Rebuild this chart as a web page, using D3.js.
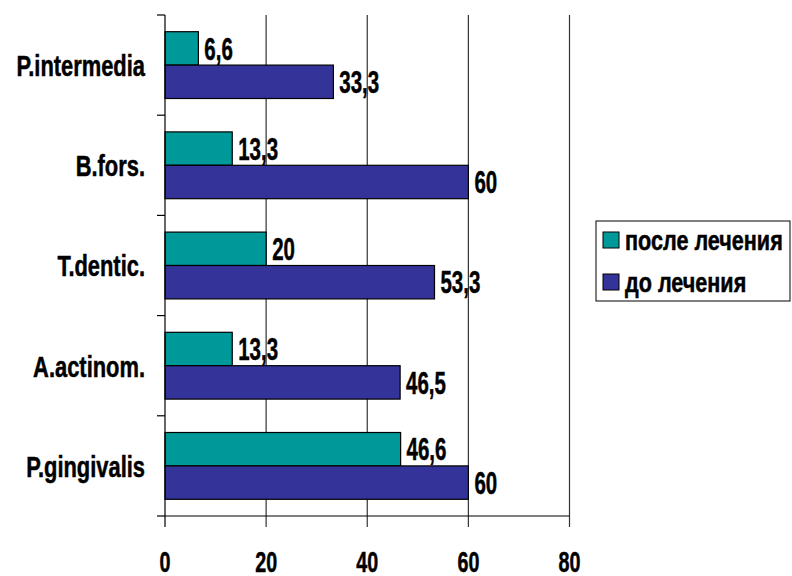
<!DOCTYPE html>
<html>
<head>
<meta charset="utf-8">
<script src="https://cdn.jsdelivr.net/npm/d3@7"></script>
<style>
  body { margin: 0; background: #fff; }
  text { font-family: "Liberation Sans", Arial, sans-serif; font-weight: bold; fill: #000; stroke: #000; stroke-width: 0.5px; }
</style>
</head>
<body>
<div id="chart"></div>
<script>
// data
const categories = ['P.intermedia', 'B.fors.', 'T.dentic.', 'A.actinom.', 'P.gingivalis'];
const seriesNames = ['после лечения', 'до лечения'];
const afterValues = [6.6, 13.3, 20, 13.3, 46.6];
const beforeValues = [33.3, 60, 53.3, 46.5, 60];
const xTicks = [0, 20, 40, 60, 80];
const colors = ['#009999', '#333399'];

const width = 792, height = 576;

const svg = d3.select('#chart').append('svg')
  .attr('width', width)
  .attr('height', height);

const x = d3.scaleLinear().domain([0, 80]).range([165, 569.5]);
const y = d3.scaleBand().domain(categories).range([15, 516])
  .paddingInner(1 / 3).paddingOuter(1 / 6);
const ySub = d3.scaleBand().domain([0, 1]).range([0, y.bandwidth()]);

const fmt = v => String(v).replace('.', ',');
// the original uses a tall narrow bold face: squeeze arial bold horizontally
const place = (tx, ty, k) => `translate(${tx},${ty}) scale(${k},1)`;

// vertical grid lines (they also act as tick marks below the axis)
svg.append('g').selectAll('line')
  .data(xTicks.slice(1))
  .join('line')
  .attr('x1', d => x(d)).attr('x2', d => x(d))
  .attr('y1', 15).attr('y2', 527)
  .attr('stroke', '#333').attr('stroke-width', 1.2);

// bars
const rows = categories.map((c, i) => ({cat: c, vals: [afterValues[i], beforeValues[i]]}));
const grp = svg.append('g').selectAll('g')
  .data(rows)
  .join('g')
  .attr('transform', d => `translate(0,${y(d.cat)})`);

grp.selectAll('rect')
  .data(d => d.vals.map((v, k) => ({v, k})))
  .join('rect')
  .attr('x', x(0))
  .attr('y', d => ySub(d.k))
  .attr('width', d => x(d.v) - x(0))
  .attr('height', ySub.bandwidth())
  .attr('fill', d => colors[d.k])
  .attr('stroke', '#000')
  .attr('stroke-width', 1.2);

grp.selectAll('text')
  .data(d => d.vals.map((v, k) => ({v, k})))
  .join('text')
  .attr('transform', d => place(x(d.v) + 6, ySub(d.k) + ySub.bandwidth() / 2, 0.66))
  .attr('dy', '0.36em')
  .attr('font-size', 31)
  .text(d => fmt(d.v));

// y axis
const yAxis = svg.append('g')
  .attr('transform', `translate(${x(0)},0)`);
yAxis.append('line')
  .attr('x1', 0).attr('x2', 0).attr('y1', 15).attr('y2', 527)
  .attr('stroke', '#000').attr('stroke-width', 1.2);
const yTicks = categories.map(c => y(c) - y.step() * y.paddingInner() / 2).concat([516]);
yAxis.selectAll('line.tk')
  .data(yTicks)
  .join('line')
  .attr('class', 'tk')
  .attr('x1', -8).attr('x2', 0)
  .attr('y1', d => d).attr('y2', d => d)
  .attr('stroke', '#000').attr('stroke-width', 1.2);
yAxis.selectAll('text')
  .data(categories)
  .join('text')
  .attr('transform', d => place(-20, y(d) + y.bandwidth() / 2, 0.73))
  .attr('dy', '0.36em')
  .attr('text-anchor', 'end')
  .attr('font-size', 30)
  .text(d => d);

// x axis
const xAxis = svg.append('g').attr('transform', 'translate(0,516)');
xAxis.append('line')
  .attr('x1', x(0)).attr('x2', x(80))
  .attr('stroke', '#000').attr('stroke-width', 1.2);
xAxis.selectAll('text')
  .data(xTicks)
  .join('text')
  .attr('transform', d => place(x(d), 46, 0.68))
  .attr('dy', '0.36em')
  .attr('text-anchor', 'middle')
  .attr('font-size', 29)
  .text(d => d);

// legend
const legend = svg.append('g').attr('transform', 'translate(596,221)');
legend.append('rect')
  .attr('width', 194).attr('height', 80)
  .attr('fill', '#fff').attr('stroke', '#000').attr('stroke-width', 1);
const li = legend.selectAll('g')
  .data(seriesNames)
  .join('g')
  .attr('transform', (d, i) => `translate(7,${11 + i * 42})`);
li.append('rect')
  .attr('width', 16).attr('height', 16)
  .attr('fill', (d, i) => colors[i])
  .attr('stroke', '#000').attr('stroke-width', 1);
li.append('text')
  .attr('transform', place(22, 8, 0.8))
  .attr('dy', '0.36em')
  .attr('font-size', 27)
  .text(d => d);
</script>
</body>
</html>
